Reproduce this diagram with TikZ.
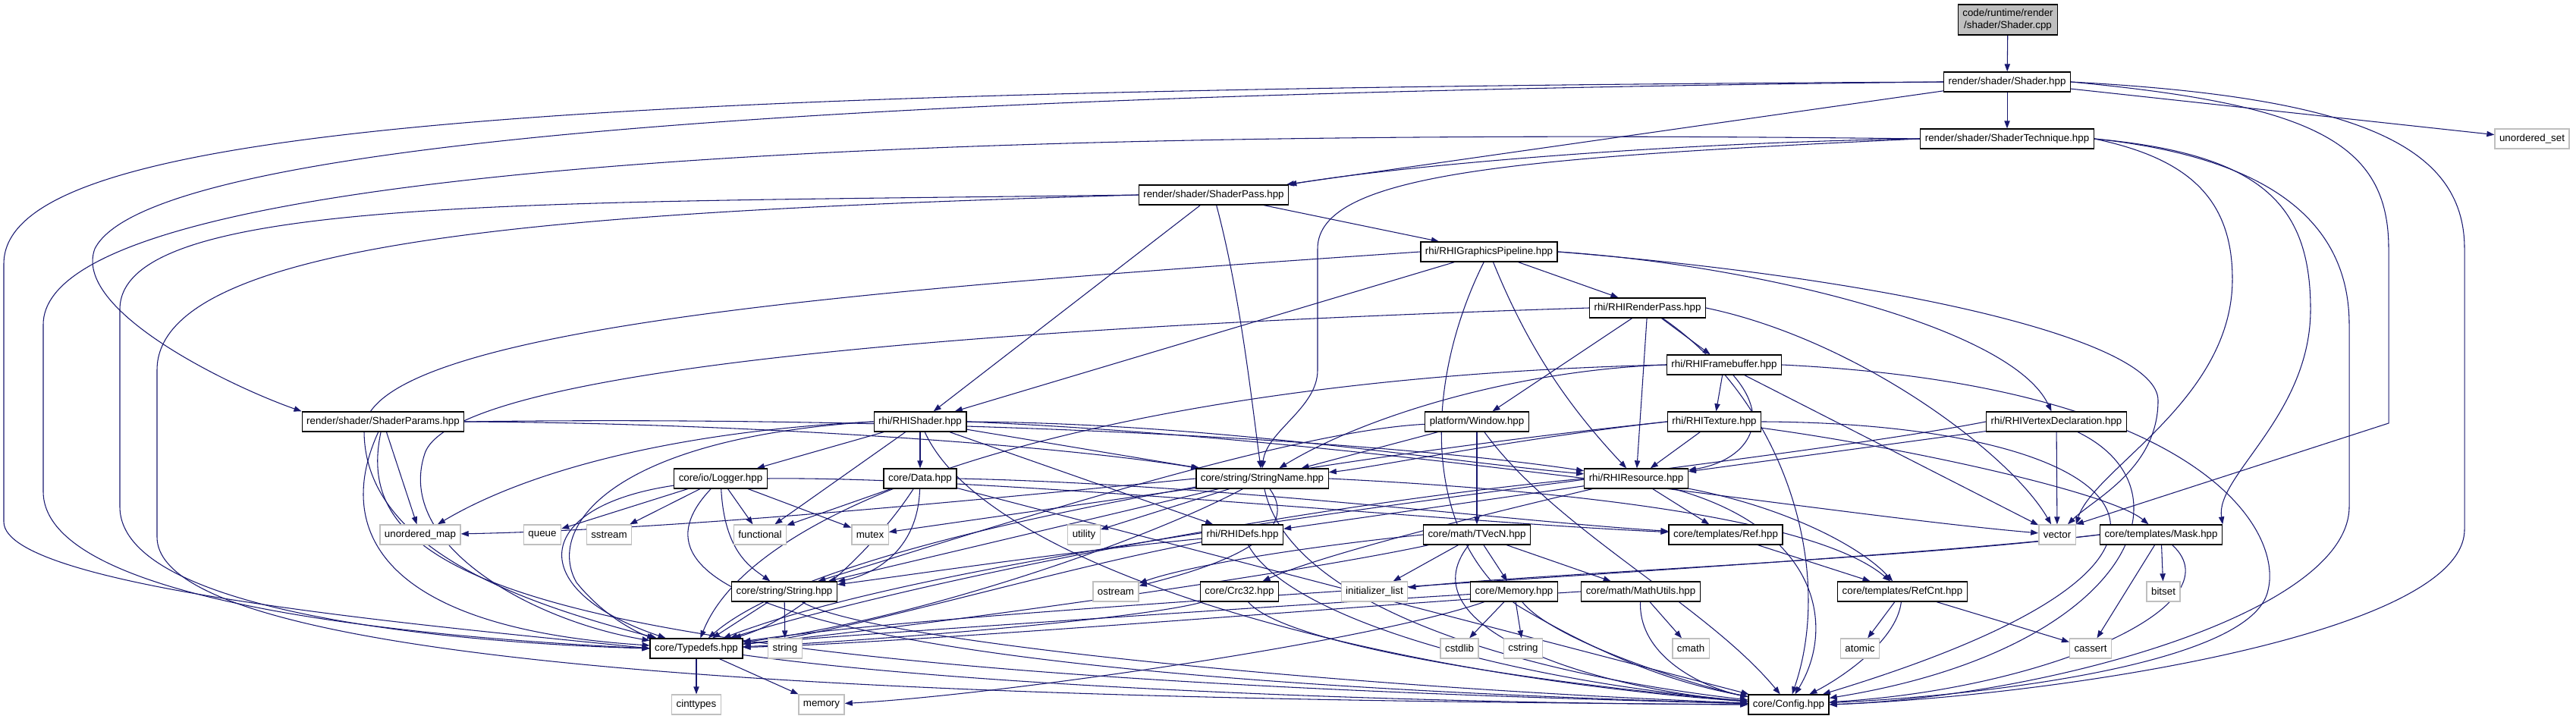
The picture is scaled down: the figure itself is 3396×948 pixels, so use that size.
\documentclass[tikz,border=0pt]{standalone}
\usepackage{fontspec}
\setmainfont{Liberation Sans}
\usetikzlibrary{arrows.meta,backgrounds}
\definecolor{midnight}{RGB}{25,25,112}
\definecolor{sysgray}{RGB}{191,191,191}

\begin{document}
\begin{tikzpicture}[x=0.75pt,y=0.75pt,
  hdr/.style={draw=black,fill=white,line width=1pt,inner xsep=4.5pt,inner ysep=0pt,minimum height=19.5pt,font=\fontsize{10}{12}\selectfont},
  sys/.style={hdr,draw=sysgray},
  srcbox/.style={hdr,fill=sysgray,align=center,minimum height=30pt},
  inc/.style={draw=midnight,line width=0.8pt,-{Triangle[length=7.5pt,width=5.5pt]}}]
  \useasboundingbox (0,0) rectangle (3396,948);

  % rows 0-4
  \node[srcbox] (A) at (2647,922) {code/runtime/render\\/shader/Shader.cpp};
  \node[hdr] (B) at (2646,840) {render/shader/Shader.hpp};
  \node[hdr] (C) at (2646,765) {render/shader/ShaderTechnique.hpp};
  \node[sys] (US) at (3338,765) {unordered\_set};
  \node[hdr] (D) at (1600,691) {render/shader/ShaderPass.hpp};
  \node[hdr] (E) at (1963,616) {rhi/RHIGraphicsPipeline.hpp};
  \node[hdr] (F) at (2172,542) {rhi/RHIRenderPass.hpp};
  \node[hdr] (G) at (2273,467) {rhi/RHIFramebuffer.hpp};
  % rows 7-8
  \node[hdr] (H) at (505,392) {render/shader/ShaderParams.hpp};
  \node[hdr] (I) at (1213,392) {rhi/RHIShader.hpp};
  \node[hdr] (W) at (1947,392) {platform/Window.hpp};
  \node[hdr] (T) at (2260,392) {rhi/RHITexture.hpp};
  \node[hdr] (V) at (2711,392) {rhi/RHIVertexDeclaration.hpp};
  \node[hdr] (L) at (950,317) {core/io/Logger.hpp};
  \node[hdr] (Da) at (1213,317) {core/Data.hpp};
  \node[hdr] (SN) at (1664,317) {core/string/StringName.hpp};
  \node[hdr] (R) at (2157,317) {rhi/RHIResource.hpp};
  % row 9
  \node[sys] (um) at (554,243) {unordered\_map};
  \node[sys] (q) at (715,243) {queue};
  \node[sys] (ss) at (803,243) {sstream};
  \node[sys] (fn) at (1002,243) {functional};
  \node[sys] (mx) at (1147,243) {mutex};
  \node[sys] (ut) at (1429,243) {utility};
  \node[hdr] (RD) at (1638,243) {rhi/RHIDefs.hpp};
  \node[hdr] (TV) at (1947,243) {core/math/TVecN.hpp};
  \node[hdr] (Ref) at (2275,243) {core/templates/Ref.hpp};
  \node[sys] (vec) at (2712,243) {vector};
  \node[hdr] (Mask) at (2849,243) {core/templates/Mask.hpp};
  % row 10
  \node[hdr] (Str) at (1034,168) {core/string/String.hpp};
  \node[sys] (os) at (1471,168) {ostream};
  \node[hdr] (Crc) at (1634,168) {core/Crc32.hpp};
  \node[sys] (il) at (1812,168) {initializer\_list};
  \node[hdr] (Mem) at (1996,168) {core/Memory.hpp};
  \node[hdr] (MU) at (2163,168) {core/math/MathUtils.hpp};
  \node[hdr] (RC) at (2508,168) {core/templates/RefCnt.hpp};
  \node[sys] (bs) at (2852,168) {bitset};
  % rows 11-12
  \node[hdr] (Ty) at (918,93) {core/Typedefs.hpp};
  \node[sys] (st) at (1035,93) {string};
  \node[sys] (cstdlib) at (1924,93) {cstdlib};
  \node[sys] (cstring) at (2008,93) {cstring};
  \node[sys] (cmath) at (2229,93) {cmath};
  \node[sys] (atomic) at (2452,93) {atomic};
  \node[sys] (cassert) at (2756,93) {cassert};
  \node[sys] (cint) at (918,19) {cinttypes};
  \node[sys] (memory) at (1083,19) {memory};
  \node[hdr] (Cfg) at (2358,19) {core/Config.hpp};

  \begin{scope}[on background layer]
  % Shader.cpp, Shader.hpp
  \draw[inc] (A) -- (B);
  \draw[inc] (B) -- (C);
  \draw[inc] (B) -- (US);
  \draw[inc] (B) -- (D);
  \draw[inc] (B.west) .. controls (1200,825) and (200,770) .. (125,620) .. controls (95,540) and (300,440) .. (H.north west);
  \draw[inc] (B.west) .. controls (700,830) and (5,780) .. (5,600) -- (5,260) .. controls (5,170) and (600,120) .. (Ty.west);
  \draw[inc] (B.east) .. controls (3100,820) and (3249,760) .. (3249,620) -- (3249,250) .. controls (3249,110) and (2700,30) .. (Cfg.east);
  \draw[inc] (B.east) .. controls (3050,810) and (3149,760) .. (3149,620) -- (3149,390) -- (vec.north east);
  % ShaderTechnique
  \draw[inc] (C.west) .. controls (2200,760) and (1850,730) .. (D.north east);
  \draw[inc] (C.west) .. controls (2000,740) and (1737,720) .. (1737,620) -- (1737,460) .. controls (1737,410) and (1670,380) .. (SN.north);
  \draw[inc] (C.west) .. controls (1300,780) and (57,740) .. (57,520) -- (57,300) .. controls (57,160) and (500,110) .. (Ty.west);
  \draw[inc] (C.east) .. controls (2950,745) and (3097,680) .. (3097,520) -- (3097,280) .. controls (3097,140) and (2700,30) .. (Cfg.east);
  \draw[inc] (C.east) .. controls (2880,740) and (2943,690) .. (2943,580) .. controls (2943,420) and (2760,330) .. (vec.north east);
  \draw[inc] (C.east) .. controls (2980,745) and (3046,680) .. (3046,540) .. controls (3046,400) and (2920,320) .. (Mask.north east);
  % ShaderPass
  \draw[inc] (D) -- (E);
  \draw[inc] (D) -- (I);
  \draw[inc] (D) .. controls (1635,560) and (1650,420) .. (SN);
  \draw[inc] (D.west) .. controls (700,680) and (158,690) .. (158,540) -- (158,280) .. controls (158,140) and (600,100) .. (Ty.west);
  \draw[inc] (D.west) .. controls (800,670) and (207,640) .. (207,460) -- (207,240) .. controls (207,40) and (1500,25) .. (Cfg.west);
  % RHIGraphicsPipeline
  \draw[inc] (E) -- (F);
  \draw[inc] (E) -- (I);
  \draw[inc] (E.east) .. controls (2300,600) and (2650,520) .. (V);
  \draw[inc] (E) .. controls (2010,500) and (2060,420) .. (R);
  \draw[inc] (E.east) .. controls (2500,580) and (2845,500) .. (2845,420) .. controls (2845,330) and (2760,290) .. (vec);
  \draw[inc] (E.west) .. controls (1200,570) and (480,520) .. (480,380) .. controls (480,220) and (700,150) .. (Ty);
  \draw[inc] (E) .. controls (1880,450) and (1870,250) .. (2000,150) .. controls (2150,60) and (2250,40) .. (Cfg);
  % RHIRenderPass
  \draw[inc] (F) -- (G);
  \draw[inc] (F) -- (W);
  \draw[inc] (F) -- (R);
  \draw[inc] (F.east) .. controls (2450,500) and (2650,350) .. (vec);
  \draw[inc] (F.west) .. controls (1400,520) and (600,470) .. (560,350) .. controls (520,230) and (700,130) .. (Ty);
  \draw[inc] (F) .. controls (2350,420) and (2420,200) .. (Cfg);
  % RHIFramebuffer
  \draw[inc] (G) -- (T);
  \draw[inc] (G) .. controls (2340,390) and (2300,340) .. (R);
  \draw[inc] (G.west) .. controls (2000,460) and (1800,400) .. (SN);
  \draw[inc] (G) -- (vec);
  \draw[inc] (G.west) .. controls (1500,450) and (1000,300) .. (Ty);
  \draw[inc] (G.east) .. controls (2900,440) and (3010,250) .. (2990,170) .. controls (2970,70) and (2600,30) .. (Cfg);
  % ShaderParams
  \draw[inc] (H.east) .. controls (1000,390) and (1400,360) .. (SN);
  \draw[inc] (H.east) .. controls (1200,400) and (1800,370) .. (R);
  \draw[inc] (H) -- (um);
  \draw[inc] (H) .. controls (440,250) and (500,120) .. (Ty);
  \draw[inc] (H) .. controls (460,180) and (700,60) .. (Cfg);
  % RHIShader
  \draw[inc] (I) -- (Da);
  \draw[inc] (I) -- (fn);
  \draw[inc] (I) -- (L);
  \draw[inc] (I) -- (SN);
  \draw[inc] (I) -- (RD);
  \draw[inc] (I.east) .. controls (1600,390) and (1900,340) .. (R);
  \draw[inc] (I.east) .. controls (1800,370) and (2400,270) .. (vec);
  \draw[inc] (I.west) .. controls (900,380) and (700,330) .. (um);
  \draw[inc] (I.west) .. controls (800,370) and (720,250) .. (760,180) .. controls (800,130) and (850,110) .. (Ty);
  \draw[inc] (I) .. controls (1300,200) and (1800,60) .. (Cfg);
  % Window
  \draw[inc] (W) -- (SN);
  \draw[inc] (W) -- (TV);
  \draw[inc] (W) .. controls (1700,380) and (1300,250) .. (Str);
  \draw[inc] (W) .. controls (2050,250) and (2250,150) .. (Cfg);
  % RHITexture
  \draw[inc] (T) -- (R);
  \draw[inc] (T.west) .. controls (2000,370) and (1800,330) .. (SN);
  \draw[inc] (T) .. controls (2500,360) and (2780,300) .. (Mask);
  \draw[inc] (T.west) .. controls (1800,350) and (1100,250) .. (Ty);
  \draw[inc] (T.east) .. controls (2800,390) and (3020,220) .. (Cfg);
  % RHIVertexDeclaration
  \draw[inc] (V) -- (vec);
  \draw[inc] (V) -- (R);
  \draw[inc] (V.west) .. controls (2300,330) and (1300,240) .. (Ty);
  \draw[inc] (V) .. controls (2900,300) and (2800,90) .. (Cfg);
  % Logger
  \draw[inc] (L) -- (q);
  \draw[inc] (L) -- (ss);
  \draw[inc] (L) -- (fn);
  \draw[inc] (L) -- (mx);
  \draw[inc] (L) .. controls (955,220) and (990,200) .. (Str);
  \draw[inc] (L) .. controls (700,280) and (690,170) .. (Ty);
  \draw[inc] (L) .. controls (840,200) and (900,60) .. (Cfg);
  \draw[inc] (L.east) .. controls (1300,320) and (1900,260) .. (Ref);
  % Data
  \draw[inc] (Da) -- (fn);
  \draw[inc] (Da) .. controls (1210,220) and (1150,190) .. (Str);
  \draw[inc] (Da) .. controls (1150,220) and (1050,130) .. (Ty);
  \draw[inc] (Da) -- (Cfg);
  \draw[inc] (Da.east) .. controls (1600,310) and (2000,260) .. (Ref);
  % StringName
  \draw[inc] (SN) -- (Str);
  \draw[inc] (SN) -- (ut);
  \draw[inc] (SN) -- (mx);
  \draw[inc] (SN) .. controls (1720,240) and (1600,200) .. (os);
  \draw[inc] (SN.west) .. controls (1300,290) and (900,250) .. (um);
  \draw[inc] (SN.east) .. controls (2100,300) and (2400,260) .. (RC);
  \draw[inc] (SN) .. controls (1500,230) and (1200,130) .. (Ty);
  \draw[inc] (SN) .. controls (1700,150) and (2000,60) .. (Cfg);
  % RHIResource
  \draw[inc] (R) -- (Ref);
  \draw[inc] (R) -- (RD);
  \draw[inc] (R) .. controls (2000,280) and (1750,220) .. (Crc);
  \draw[inc] (R) .. controls (2350,280) and (2450,230) .. (RC);
  \draw[inc] (R.west) .. controls (1700,280) and (1200,180) .. (Ty);
  \draw[inc] (R) .. controls (2400,250) and (2420,120) .. (Cfg);
  % RHIDefs
  \draw[inc] (RD) .. controls (1400,220) and (1200,190) .. (Str);
  \draw[inc] (RD) .. controls (1400,200) and (1100,110) .. (Ty);
  \draw[inc] (RD) .. controls (1700,130) and (2000,50) .. (Cfg);
  % TVecN
  \draw[inc] (TV) -- (il);
  \draw[inc] (TV) -- (Mem);
  \draw[inc] (TV) -- (MU);
  \draw[inc] (TV.west) .. controls (1700,225) and (1560,200) .. (os);
  \draw[inc] (TV) .. controls (1700,190) and (1200,120) .. (Ty);
  \draw[inc] (TV) .. controls (1850,120) and (2100,40) .. (Cfg);
  % lower headers
  \draw[inc] (Ref) -- (RC);
  \draw[inc] (Mask) -- (bs);
  \draw[inc] (Mask) -- (cassert);
  \draw[inc] (Mask) .. controls (2950,150) and (2700,40) .. (Cfg);
  \draw[inc] (Mask.west) .. controls (2400,200) and (1300,150) .. (Ty);
  \draw[inc] (Mask.west) .. controls (2500,210) and (2000,190) .. (il);
  \draw[inc] (Str) -- (st);
  \draw[inc] (Str) -- (Ty);
  \draw[inc] (Str) .. controls (1150,100) and (1800,40) .. (Cfg);
  \draw[inc] (Crc) .. controls (1500,130) and (1100,100) .. (Ty);
  \draw[inc] (Crc) .. controls (1700,90) and (2100,40) .. (Cfg);
  \draw[inc] (Mem) -- (cstdlib);
  \draw[inc] (Mem) -- (cstring);
  \draw[inc] (Mem) .. controls (1800,100) and (1300,30) .. (memory);
  \draw[inc] (Mem) .. controls (1700,150) and (1100,110) .. (Ty);
  \draw[inc] (Mem) .. controls (2050,100) and (2250,40) .. (Cfg);
  \draw[inc] (MU) -- (cmath);
  \draw[inc] (MU) .. controls (2160,80) and (2250,40) .. (Cfg);
  \draw[inc] (MU.west) .. controls (1800,150) and (1200,100) .. (Ty);
  \draw[inc] (RC) -- (atomic);
  \draw[inc] (RC) -- (cassert);
  \draw[inc] (RC) .. controls (2500,100) and (2420,50) .. (Cfg);
  \draw[inc] (Ty) -- (cint);
  \draw[inc] (Ty) -- (memory);
  \draw[inc] (Ty) .. controls (1300,40) and (1900,20) .. (Cfg);
  \end{scope}
\end{tikzpicture}
\end{document}
